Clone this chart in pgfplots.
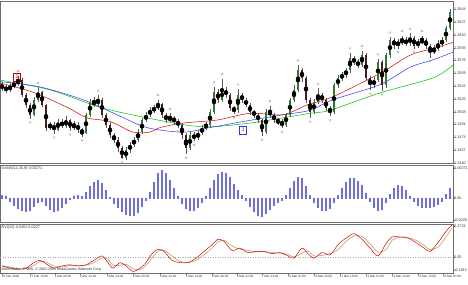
\documentclass[border=0pt]{standalone}
\usepackage{pgfplots}
\usepackage{pgfplotstable}
\usepackage{fontspec}
\setmainfont{Liberation Sans}
\pgfplotsset{compat=1.18}
\definecolor{bull}{RGB}{50,120,50}
\definecolor{bear}{RGB}{70,30,30}
\definecolor{osma}{RGB}{110,110,225}
\definecolor{rvisig}{RGB}{170,150,90}
\definecolor{frame}{RGB}{110,110,110}
\pgfplotstableread{
i o h l c
0 12543 12547 12536 12540
1 12540 12544 12533 12537
2 12537 12546 12534 12542
3 12542 12549 12539 12545
4 12545 12556 12542 12550
5 12550 12553 12527 12530
6 12530 12533 12513 12517
7 12517 12520 12499 12504
8 12504 12528 12502 12524
9 12524 12540 12521 12534
10 12534 12536 12514 12517
11 12517 12519 12483 12487
12 12487 12495 12484 12491
13 12491 12494 12479 12484
14 12484 12499 12482 12495
15 12495 12498 12486 12489
16 12489 12502 12486 12497
17 12497 12499 12483 12487
18 12487 12496 12484 12491
19 12491 12494 12480 12484
20 12484 12486 12475 12480
21 12480 12507 12478 12504
22 12504 12525 12501 12521
23 12521 12528 12514 12518
24 12518 12530 12515 12524
25 12524 12527 12500 12504
26 12504 12507 12487 12491
27 12491 12494 12473 12477
28 12477 12480 12466 12471
29 12471 12474 12455 12460
30 12460 12463 12445 12447
31 12447 12461 12444 12458
32 12458 12468 12453 12464
33 12464 12475 12461 12471
34 12471 12485 12468 12481
35 12481 12500 12478 12497
36 12497 12508 12494 12504
37 12504 12514 12501 12510
38 12510 12517 12506 12513
39 12513 12524 12510 12518
40 12518 12520 12500 12504
41 12504 12507 12493 12497
42 12497 12506 12494 12500
43 12500 12503 12491 12495
44 12495 12498 12487 12491
45 12491 12493 12472 12477
46 12477 12480 12452 12460
47 12460 12481 12457 12477
48 12477 12481 12469 12473
49 12473 12484 12470 12480
50 12480 12490 12477 12487
51 12487 12495 12484 12491
52 12491 12512 12488 12508
53 12508 12541 12505 12534
54 12534 12538 12520 12524
55 12524 12552 12521 12537
56 12537 12541 12526 12530
57 12530 12533 12509 12513
58 12513 12516 12505 12510
59 12510 12538 12507 12530
60 12530 12533 12520 12524
61 12524 12527 12514 12517
62 12517 12520 12504 12508
63 12508 12511 12500 12504
64 12504 12507 12493 12497
65 12497 12499 12476 12481
66 12481 12512 12478 12508
67 12508 12516 12500 12504
68 12504 12507 12493 12497
69 12497 12500 12490 12495
70 12495 12498 12486 12491
71 12491 12507 12488 12504
72 12504 12527 12501 12524
73 12524 12544 12521 12537
74 12537 12570 12534 12563
75 12563 12566 12548 12553
76 12553 12556 12520 12524
77 12524 12527 12500 12508
78 12508 12525 12505 12521
79 12521 12539 12518 12530
80 12530 12533 12520 12524
81 12524 12527 12509 12513
82 12513 12516 12502 12508
83 12508 12546 12505 12543
84 12543 12557 12540 12553
85 12553 12561 12549 12557
86 12557 12566 12553 12563
87 12563 12586 12560 12579
88 12579 12582 12570 12574
89 12574 12578 12566 12570
90 12570 12589 12567 12583
91 12583 12586 12549 12553
92 12553 12556 12537 12543
93 12543 12554 12540 12550
94 12550 12578 12547 12574
95 12574 12577 12536 12543
96 12543 12586 12540 12583
97 12583 12607 12580 12603
98 12603 12606 12592 12596
99 12596 12605 12592 12600
100 12600 12609 12597 12603
101 12603 12607 12595 12599
102 12599 12612 12596 12606
103 12606 12609 12592 12596
104 12596 12605 12593 12600
105 12600 12609 12598 12603
106 12603 12606 12591 12596
107 12596 12598 12580 12587
108 12587 12597 12584 12592
109 12592 12603 12589 12598
110 12598 12607 12594 12603
111 12603 12622 12600 12619
112 12619 12645 12616 12640
}\candles
\pgfplotsset{
  mtbase/.style={
    scale only axis, width=453pt,
    xmin=-0.5, xmax=112.75,
    axis line style={frame, line width=0.6pt},
    tick style={frame, line width=0.4pt},
    tick align=outside, major tick length=1.5pt,
    ytick pos=right, yticklabel pos=right,
    yticklabel style={font=\fontsize{3.8}{4}\selectfont, anchor=west, xshift=-1.2pt, inner sep=0.6pt, text=black!80},
    xticklabel style={font=\fontsize{3.1}{4}\selectfont, anchor=north west, xshift=-1.2pt, yshift=0.5pt, inner sep=0.8pt, text=black!80},
    axis background/.style={fill=white},
  },
}
\begin{document}
\begin{tikzpicture}
\useasboundingbox (0,0) rectangle (468pt,-284pt);
% ---------------- price panel ----------------
\begin{axis}[mtbase, at={(0pt,-1pt)}, anchor=north west, height=162pt,
  ymin=12440, ymax=12655, xtick=\empty, clip=false,
  ytick={12440,12457,12474,12491,12508,12525,12542,12559,12576,12593,12610,12627,12644},
  yticklabels={1.2440,1.2457,1.2474,1.2491,1.2508,1.2525,1.2542,1.2559,1.2576,1.2593,1.2610,1.2627,1.2644}]
\addplot[green!75!black, line width=0.5pt, smooth] coordinates {(-0.5,12550) (12,12537) (24.5,12514) (35.25,12501) (45.25,12491) (52,12488) (62,12493) (70.25,12500) (77,12506) (82,12510) (94.5,12533) (107.75,12553) (112.75,12570)};
\addplot[blue!80, line width=0.5pt, smooth] coordinates {(-0.5,12548) (9.5,12541) (20.25,12524) (28.75,12504) (36.25,12487) (45.25,12481) (52,12487) (60.25,12495) (70.25,12504) (77,12510) (82.75,12524) (94.5,12544) (102,12567) (107.75,12577) (112.75,12587)};
\addplot[red!85!black, line width=0.5pt, smooth] coordinates {(-0.5,12546) (7.75,12534) (16.25,12514) (21.25,12500) (27,12495) (32.75,12481) (37,12481) (39.5,12487) (45.25,12493) (53.75,12497) (62,12506) (70.25,12504) (76.25,12517) (82.75,12528) (94.5,12559) (102,12583) (107.75,12592) (112.75,12600)};
% wicks
\addplot[only marks, mark=none, error bars/.cd, y dir=both, y explicit, error mark=none,
  error bar style={draw=black!65, line width=0.45pt}]
  table[x=i, y expr={(\thisrow{h}+\thisrow{l})/2}, y error expr={(\thisrow{h}-\thisrow{l})/2}] {\candles};
% bullish bodies
\addplot[only marks, mark=none, restrict expr to domain={\thisrow{c}-\thisrow{o}}{0:1000},
  error bars/.cd, y dir=both, y explicit, error mark=none,
  error bar style={draw=bull, line width=2pt}]
  table[x=i, y expr={(\thisrow{o}+\thisrow{c})/2}, y error expr={max(abs(\thisrow{c}-\thisrow{o})/2,0.6)}] {\candles};
% bearish bodies
\addplot[only marks, mark=none, restrict expr to domain={\thisrow{o}-\thisrow{c}}{0.5:1000},
  error bars/.cd, y dir=both, y explicit, error mark=none,
  error bar style={draw=bear, line width=2pt}]
  table[x=i, y expr={(\thisrow{o}+\thisrow{c})/2}, y error expr={max(abs(\thisrow{c}-\thisrow{o})/2,0.6)}] {\candles};
% fractals
\addplot[only marks, mark=triangle, mark size=1.2pt, mark options={gray!75, line width=0.3pt}] coordinates {(4,12562) (9,12546) (24,12536) (39,12530) (42,12512) (53,12547) (55,12558) (59,12544) (67,12522) (74,12576) (79,12545) (87,12592) (90,12595) (94,12584) (97,12613) (100,12615) (102,12618) (105,12615)};
\addplot[only marks, mark=triangle, mark size=1.2pt, mark options={gray!75, line width=0.3pt, rotate=180}] coordinates {(7,12494) (13,12474) (17,12478) (20,12470) (30,12441) (44,12482) (46,12447) (48,12464) (58,12500) (65,12471) (70,12481) (77,12495) (82,12497) (92,12532) (95,12531) (99,12587) (103,12587) (107,12575)};
\node[draw=red!80!black, text=red!80!black, font=\fontsize{5}{5}\selectfont, inner sep=1pt, minimum width=7pt, minimum height=8pt] at (axis cs:3.75,12554) {2};
\node[draw=blue!80, text=blue!80, font=\fontsize{5}{5}\selectfont, inner sep=1pt, minimum width=7pt, minimum height=8pt] at (axis cs:60.25,12484) {3};
\end{axis}
% ---------------- OsMA panel ----------------
\begin{axis}[mtbase, at={(0pt,-165pt)}, anchor=north west, height=57pt,
  ymin=-216, ymax=297, xtick=\empty,
  ytick={-200,0,271}, yticklabels={-0.0020,0.00,0.00271}]
\addplot[ybar, bar width=1.5pt, fill=osma, draw=osma, line width=0pt] coordinates {
(0,27) (1,18) (2,-27) (3,-63) (4,-90) (5,-108) (6,-117) (7,-108) (8,-72) (9,-36)
(10,-27) (11,-63) (12,-99) (13,-117) (14,-108) (15,-81) (16,-45) (17,-9) (18,18) (19,27)
(20,18) (21,54) (22,108) (23,144) (24,162) (25,135) (26,72) (27,9) (28,-45) (29,-81)
(30,-117) (31,-144) (32,-153) (33,-153) (34,-126) (35,-72) (36,-18) (37,54) (38,144) (39,225)
(40,252) (41,225) (42,162) (43,90) (44,18) (45,-45) (46,-90) (47,-108) (48,-108) (49,-81)
(50,-36) (51,18) (52,90) (53,162) (54,216) (55,234) (56,225) (57,189) (58,126) (59,72)
(60,27) (61,-18) (62,-72) (63,-117) (64,-153) (65,-162) (66,-135) (67,-99) (68,-63) (69,-36)
(70,-18) (71,27) (72,90) (73,153) (74,189) (75,180) (76,108) (77,27) (78,-36) (79,-81)
(80,-108) (81,-108) (82,-90) (83,-36) (84,27) (85,90) (86,144) (87,180) (88,180) (89,153)
(90,117) (91,45) (92,-27) (93,-81) (94,-108) (95,-99) (96,-36) (97,36) (98,90) (99,117)
(100,108) (101,72) (102,18) (103,-27) (104,-63) (105,-81) (106,-81) (107,-81) (108,-72) (109,-54)
(110,-27) (111,36) (112,90)};
\node[anchor=north west, font=\fontsize{3.8}{4}\selectfont, text=black!80, inner sep=1.5pt] at (rel axis cs:0,1) {OsMA(12,26,9) 0.00271};
\end{axis}
% ---------------- RVI panel ----------------
\begin{axis}[mtbase, at={(0pt,-224pt)}, anchor=north west, height=49pt,
  ymin=-0.144, ymax=0.297,
  ytick={-0.1183,0,0.2734}, yticklabels={-0.1183,0.00,0.2734},
  xtick pos=bottom,
  xtick={0,7,13.25,19.5,26.25,32.75,39.5,46,52.5,58.75,65,71.5,78,84.5,91,97.5,104,110.25},
  xticklabels={26 Feb 2008,27 Feb 15:00,1 Mar 00:00,2 Mar 22:00,3 Mar 14:00,4 Mar 06:00,4 Mar 22:00,5 Mar 14:00,6 Mar 06:00,6 Mar 22:00,7 Mar 14:00,10 Mar 07:00,10 Mar 23:00,11 Mar 15:00,12 Mar 07:00,12 Mar 23:00,13 Mar 15:00,14 Mar 07:00}]
\addplot[gray!70, dotted, line width=0.5pt] coordinates {(-0.5,0) (112.75,0)};
\addplot[rvisig, line width=0.5pt, smooth] coordinates {
(0,-0.08) (2,-0.09) (4,-0.105) (6,-0.105) (8,-0.075) (9.5,-0.04) (11,-0.045) (13,-0.08) (15,-0.09) (17,-0.075)
(19,-0.075) (21,-0.075) (23,-0.05) (25,-0.01) (26.5,-0.02) (27.75,-0.075) (29.5,-0.075) (31,-0.065) (32.75,-0.105) (34.5,-0.115)
(36,-0.075) (37.5,-0.01) (39,0.05) (40.5,0.06) (42.5,0.01) (44.5,-0.04) (46.5,-0.05) (48.5,-0.03) (50.5,0.02) (52.5,0.08)
(54,0.135) (55.5,0.15) (57.5,0.10) (59.5,0.07) (61.5,0.06) (63.5,0.045) (65.5,0.05) (67.5,0.04) (69.5,0.035) (71.5,0.025)
(73,0.00) (75,0.035) (76.5,0.055) (78,0.01) (80,0.015) (82,0.03) (84,0.065) (86,0.14) (88,0.19) (90,0.185)
(92,0.12) (94,0.045) (96,0.065) (97.5,0.15) (99.5,0.18) (101.5,0.175) (103.5,0.15) (105.5,0.105) (107,0.065) (109,0.09)
(111,0.18) (112.5,0.26)};
\addplot[red!85!black, line width=0.5pt, smooth] coordinates {
(0,-0.08) (2,-0.10) (4,-0.11) (6,-0.10) (8,-0.05) (9.5,-0.03) (11,-0.06) (13,-0.10) (15,-0.08) (17,-0.07)
(19,-0.08) (21,-0.07) (23,-0.03) (25,0.01) (26.5,-0.05) (27.75,-0.10) (29.5,-0.05) (31,-0.08) (32.75,-0.13) (34.5,-0.10)
(36,-0.05) (37.5,0.03) (39,0.07) (40.5,0.05) (42.5,-0.03) (44.5,-0.05) (46.5,-0.05) (48.5,-0.01) (50.5,0.05) (52.5,0.11)
(54,0.16) (55.5,0.14) (57.5,0.06) (59.5,0.08) (61.5,0.04) (63.5,0.05) (65.5,0.05) (67.5,0.03) (69.5,0.04) (71.5,0.01)
(73,-0.01) (75,0.08) (76.5,0.03) (78,-0.01) (80,0.04) (82,0.02) (84,0.11) (86,0.17) (88,0.21) (90,0.16)
(92,0.08) (94,0.01) (96,0.12) (97.5,0.18) (99.5,0.18) (101.5,0.17) (103.5,0.13) (105.5,0.08) (107,0.05) (109,0.13)
(111,0.23) (112.5,0.29)};
\node[anchor=north west, font=\fontsize{3.8}{4}\selectfont, text=black!80, inner sep=1.5pt] at (rel axis cs:0,1) {RVI(10) 0.0452 0.0227};
\node[anchor=south west, font=\fontsize{3.6}{4}\selectfont, text=black!80, inner sep=1.5pt] at (rel axis cs:0,0) {MetaTrader - FXMS, \textcopyright{} 2001-2005 MetaQuotes Software Corp.};
\end{axis}
\end{tikzpicture}
\end{document}
